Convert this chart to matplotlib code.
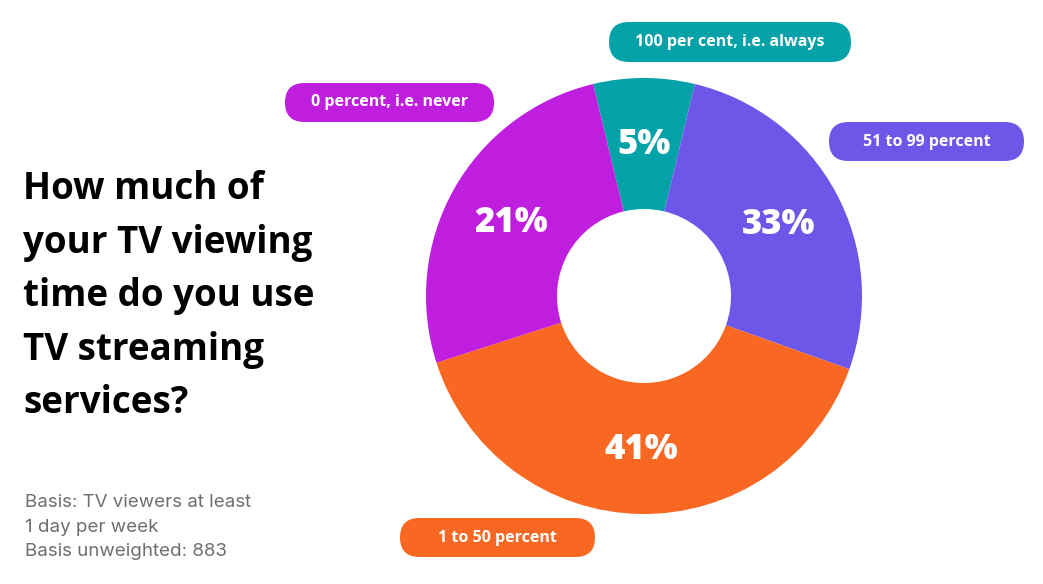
import matplotlib
matplotlib.use("Agg")
import numpy as np
import matplotlib.pyplot as plt
from matplotlib.patches import FancyBboxPatch

# data
categories = ["100 per cent, i.e. always", "51 to 99 percent",
              "1 to 50 percent", "0 percent, i.e. never"]
printed_pct = ["5%", "33%", "41%", "21%"]
# slice sizes as drawn in the reference picture (they don't follow the printed numbers)
wedge_share = [7.5, 26.7, 39.6, 26.2]
colors = ["#02a2a8", "#6d57e9", "#f96823", "#c01ede"]

title_lines = ["How much of", "your TV viewing", "time do you use",
               "TV streaming", "services?"]
note_lines = ["Basis: TV viewers at least", "1 day per week",
              "Basis unweighted: 883"]

# layout, in pixels from the top left corner
W, H = 1043, 584
cx, cy = 644, 296
r_out, r_in = 218, 87
# pill boxes: left, top, right, bottom
pills = {
    "100 per cent, i.e. always": (609, 22, 851, 62),
    "51 to 99 percent": (829, 122, 1024, 161),
    "1 to 50 percent": (400, 518, 595, 557),
    "0 percent, i.e. never": (285, 83, 494, 122),
}

fig = plt.figure(figsize=(W / 100, H / 100), dpi=100)
ax = fig.add_axes([0, 0, 1, 1])

wedges, _ = ax.pie(wedge_share, colors=colors, center=(cx, H - cy), radius=r_out,
                   startangle=90 + 13.5, counterclock=False,
                   wedgeprops=dict(width=r_out - r_in, linewidth=0))
ax.set_xlim(0, W)
ax.set_ylim(0, H)
ax.set_aspect("equal")
ax.axis("off")

# percentages in the middle of each ring slice
r_mid = (r_out + r_in) / 2
for w, txt in zip(wedges, printed_pct):
    a = np.deg2rad((w.theta1 + w.theta2) / 2)
    ax.text(cx + r_mid * np.cos(a), H - cy + r_mid * np.sin(a) - 2, txt,
            color="white", fontsize=25, fontweight="heavy", family="Open Sans",
            ha="center", va="center")

# category pills
for cat, col in zip(categories, colors):
    x0, y0, x1, y1 = pills[cat]
    hgt = y1 - y0
    box = FancyBboxPatch((x0, H - y1), x1 - x0, hgt,
                         boxstyle="round,pad=0,rounding_size=%f" % (hgt / 2),
                         fc=col, ec="none")
    ax.add_patch(box)
    ax.text((x0 + x1) / 2, H - (y0 + y1) / 2, cat, color="white", fontsize=11.5,
            fontweight="bold", family="Open Sans", ha="center", va="center")

# title
for i, line in enumerate(title_lines):
    ax.text(23, H - (199 + i * 53.6), line, fontsize=26.5, fontweight="bold",
            family="Open Sans", color="black", ha="left", va="baseline")

# footnote
for i, line in enumerate(note_lines):
    ax.text(25, H - (507 + i * 24.5), line, fontsize=13.5, family="Inter",
            color="#6f6f6f", ha="left", va="baseline")

fig.savefig("out.png", dpi=100, facecolor="white")
